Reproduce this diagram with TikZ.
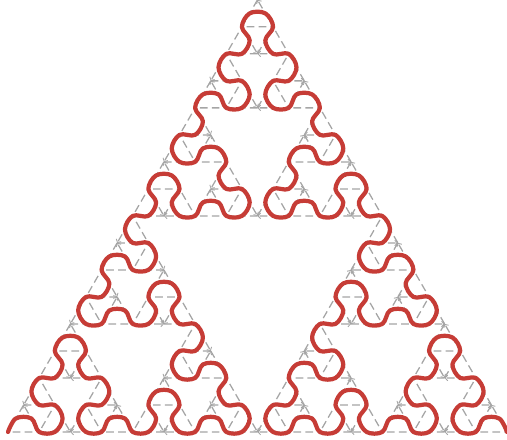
\documentclass[tikz,border=0pt]{standalone}
\usetikzlibrary{arrows.meta}

\definecolor{curvered}{RGB}{198,60,54}
\definecolor{gridgray}{RGB}{165,165,165}

% arrowhead curve: order, entry (x,y), exit (x,y), third corner (x,y)
\def\redpts{(8,8)}
\def\graytris{}
\newcommand\arrowhead[7]{%
  \ifnum#1=0
    \xdef\redpts{\redpts(#4,#5)}%
  \else
    \ifnum#1=1
      \xdef\graytris{\unexpanded\expandafter{\graytris}%
        \noexpand\draw[gridline] (#6,#7) -- (#2,#3) -- (#4,#5) -- (#6,#7);}%
    \fi
    \begingroup
      \pgfmathsetmacro\mpqx{(#2+#4)/2}\pgfmathsetmacro\mpqy{(#3+#5)/2}%
      \pgfmathsetmacro\mprx{(#2+#6)/2}\pgfmathsetmacro\mpry{(#3+#7)/2}%
      \pgfmathsetmacro\mqrx{(#4+#6)/2}\pgfmathsetmacro\mqry{(#5+#7)/2}%
      \pgfmathtruncatemacro\suborder{#1-1}%
      \edef\ahnext{%
        \noexpand\arrowhead{\suborder}{#2}{#3}{\mprx}{\mpry}{\mpqx}{\mpqy}%
        \noexpand\arrowhead{\suborder}{\mprx}{\mpry}{\mqrx}{\mqry}{#6}{#7}%
        \noexpand\arrowhead{\suborder}{\mqrx}{\mqry}{#4}{#5}{\mpqx}{\mpqy}}%
      \expandafter
    \endgroup\ahnext
  \fi}
\arrowhead{5}{8}{8}{507}{8}{257.5}{440.15}

\begin{document}
\begin{tikzpicture}[
    x=0.025cm, y=0.025cm,
    gridline/.style={gridgray, line width=0.9pt, dash pattern=on 5.5pt off 3pt,
      -{Straight Barb[length=1.8pt,width=4pt,line width=0.6pt]}},
    redcurve/.style={curvered, line width=3pt, line cap=round, line join=round}
  ]
  \useasboundingbox (0,0) rectangle (507,440);
  % Sierpinski triangles, one arrow each
  \graytris
  % smoothed arrowhead curve
  \edef\drawcurve{\noexpand\draw[redcurve] plot[smooth, tension=0.6] coordinates {\redpts};}
  \drawcurve
\end{tikzpicture}
\end{document}
